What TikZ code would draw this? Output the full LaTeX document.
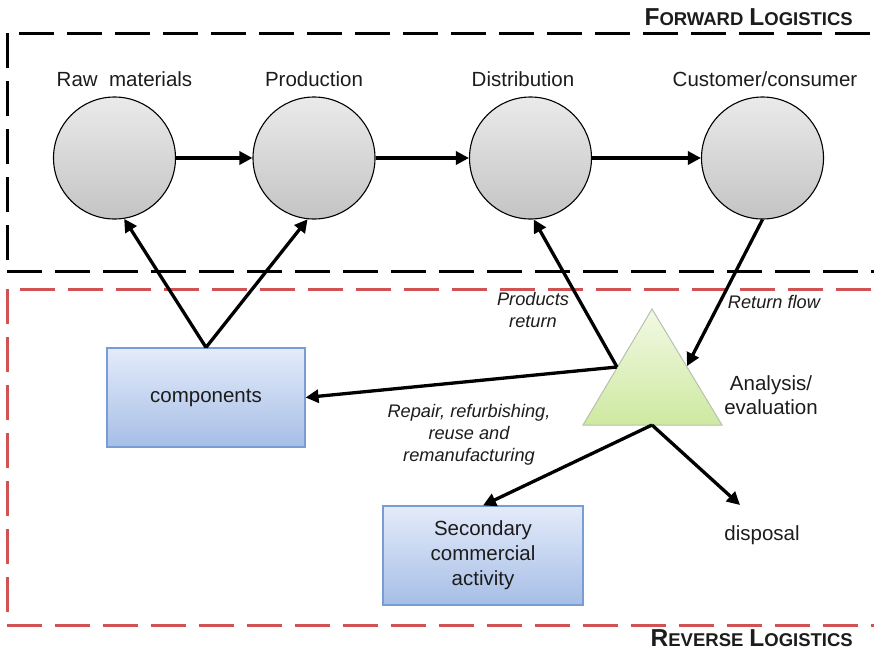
\documentclass[tikz,border=0pt]{standalone}
\usepackage{fontspec}
\setmainfont{Liberation Sans}
\usetikzlibrary{arrows.meta}

\definecolor{inkdark}{RGB}{28,28,28}
\definecolor{circtop}{RGB}{234,234,234}
\definecolor{circbot}{RGB}{196,196,196}
\definecolor{boxtop}{RGB}{228,235,250}
\definecolor{boxbot}{RGB}{166,190,230}
\definecolor{boxedge}{RGB}{120,156,212}
\definecolor{tritop}{RGB}{242,249,228}
\definecolor{tribot}{RGB}{206,233,160}
\definecolor{triedge}{RGB}{184,192,176}
\definecolor{revred}{RGB}{208,82,82}

% caps-and-small-caps title: big initial, smaller remaining letters
\newcommand\capsword[2]{{\fontsize{24.5}{24}\selectfont #1}{\fontsize{18.5}{24}\selectfont #2}}

\begin{document}
\begin{tikzpicture}[x=1pt,y=-1pt,
  stage/.style={circle, draw=black, line width=1.1pt, minimum size=122pt,
    inner sep=0pt, top color=circtop, bottom color=circbot},
  blockbox/.style={rectangle, draw=boxedge, line width=1.1pt, inner sep=0pt,
    top color=boxtop, bottom color=boxbot, align=center, text=inkdark,
    font=\fontsize{20.5}{25}\selectfont},
  lbl/.style={text=inkdark, font=\fontsize{20.5}{24}\selectfont,
    align=center, inner sep=0pt},
  note/.style={text=inkdark, font=\itshape\fontsize{18.2}{22}\selectfont,
    align=center, inner sep=0pt},
  flow/.style={draw=black, line width=3.3pt,
    -{Triangle[length=13pt,width=13pt]}},
  fwdline/.style={draw=black, line width=3pt, dash pattern=on 35pt off 13pt},
  revline/.style={draw=revred, line width=3pt, dash pattern=on 35pt off 13pt},
  region/.style={text=inkdark, inner sep=0pt, anchor=base east,
    font=\bfseries},
]
\useasboundingbox (0,0) rectangle (874,651);

% forward logistics frame
\draw[fwdline, dash phase=36pt] (7,33) -- (874,33);
\draw[fwdline] (7,33) -- (7,271);
\draw[fwdline] (7,271) -- (874,271);
% reverse logistics frame
\draw[revline, dash phase=35pt] (7,289) -- (874,289);
\draw[revline] (7,289) -- (7,625);
\draw[revline] (7,625) -- (874,625);

% frame titles
\node[region] (fwdtitle) at (853,25)
  {\capsword{F}{ORWARD}\hspace{6pt}\capsword{L}{OGISTICS}};
\node[region] (revtitle) at (853,646)
  {\capsword{R}{EVERSE}\hspace{6pt}\capsword{L}{OGISTICS}};

% forward chain
\node[stage] (raw)  at (114.5,158) {};
\node[stage] (prod) at (314,158) {};
\node[stage] (dist) at (530.5,158) {};
\node[stage] (cust) at (762.5,158) {};

\node[lbl] (rawlbl)  at (124.5,79) {Raw\ \ materials};
\node[lbl] (prodlbl) at (314,79) {Production};
\node[lbl] (distlbl) at (523,79) {Distribution};
\node[lbl] (custlbl) at (765,79) {Customer/consumer};

\draw[flow] (raw) -- (prod);
\draw[flow] (prod) -- (dist);
\draw[flow] (dist) -- (cust);

% reverse side blocks
\node[blockbox, minimum width=198pt, minimum height=99pt] (comp) at (206,397.5) {components};
\node[blockbox, minimum width=200pt, minimum height=99pt] (sec) at (483,555.5)
  {Secondary\\commercial\\activity};

% analysis triangle
\coordinate (tA) at (652,309);
\coordinate (tL) at (583,425);
\coordinate (tR) at (722,425);
\coordinate (tB) at (652,425);
\coordinate (tIn) at (617,367);
\coordinate (tRet) at (687,366);
\shade[top color=tritop, bottom color=tribot, draw=triedge, line width=1pt]
  (tA) -- (tR) -- (tL) -- cycle;

\node[lbl] (anal) at (771,395) {Analysis/\\evaluation};
\node[lbl] (disp) at (762,535) {disposal};
\coordinate (dispin) at (740,505);

% reverse flows
\draw[flow] (comp.north) -- (raw.-81);
\draw[flow] (comp.north) -- (prod.-96);
\draw[flow] (tIn) -- (dist.-87);
\draw[flow] (tIn) -- (comp.east);
\draw[flow] (cust.-90) -- (tRet);
\draw[flow] (tB) -- (sec.north);
\draw[flow] (tB) -- (dispin);

% flow labels
\node[note] (retlbl) at (533,310) {Products\\return};
\node[note] (flowlbl) at (774,302) {Return flow};
\node[note] (repairlbl) at (469,435) {Repair, refurbishing,\\reuse and\\remanufacturing};
\end{tikzpicture}
\end{document}
